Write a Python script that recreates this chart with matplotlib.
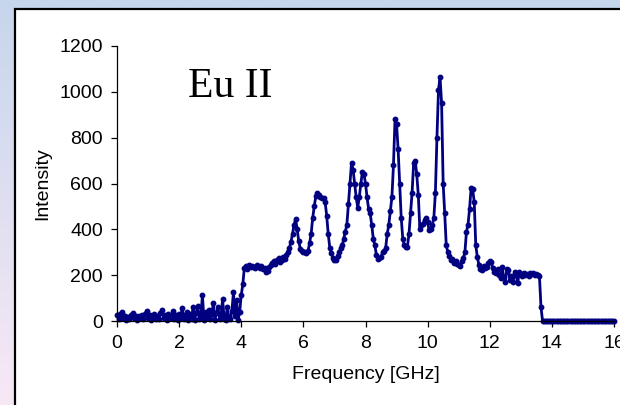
import numpy as np
import matplotlib.pyplot as plt
from matplotlib.patches import Rectangle

freq_step = 0.05
intensity = [
    # 0 - 1 GHz
    25, 10, 30, 40, 15, 20, 5, 18, 10, 25, 33, 12, 20, 5, 22, 15, 28, 10, 30, 45,
    # 1 - 2 GHz
    12, 25, 5, 20, 30, 10, 22, 8, 35, 50, 15, 25, 5, 30, 12, 20, 44, 10, 25, 5,
    # 2 - 3 GHz
    30, 15, 58, 8, 25, 40, 5, 30, 10, 62, 5, 35, 65, 10, 20, 113, 5, 40, 15, 50,
    # 3 - 4 GHz
    10, 30, 77, 5, 35, 62, 8, 25, 95, 10, 5, 62, 15, 8, 45, 128, 20, 92, 5, 40,
    # 4 - 5 GHz
    113, 160, 232, 240, 228, 245, 235, 242, 236, 230, 244, 238, 232, 240, 225, 230, 212, 220, 235, 245,
    # 5 - 6 GHz
    255, 262, 250, 268, 275, 258, 265, 280, 270, 290, 300, 320, 345, 380, 420, 445, 400, 350, 315, 305,
    # 6 - 7 GHz
    300, 302, 298, 305, 340, 380, 450, 500, 545, 560, 548, 540, 538, 535, 520, 460, 380, 320, 295, 275,
    # 7 - 8 GHz
    265, 268, 285, 300, 320, 330, 360, 390, 420, 510, 600, 690, 660, 600, 540, 495, 540, 600, 650, 640,
    # 8 - 9 GHz
    600, 540, 490, 470, 420, 360, 330, 290, 272, 275, 280, 300, 305, 320, 380, 420, 480, 540, 680, 880,
    # 9 - 10 GHz
    860, 750, 600, 450, 360, 330, 322, 325, 380, 470, 560, 690, 700, 640, 550, 400, 420, 425, 440, 450,
    # 10 - 11 GHz
    430, 395, 400, 420, 450, 560, 800, 1010, 1063, 950, 600, 470, 330, 300, 285, 265, 270, 255, 260, 250,
    # 11 - 12 GHz
    245, 240, 260, 275, 300, 390, 420, 490, 580, 575, 520, 330, 280, 245, 225, 222, 240, 230, 235, 255,
    # 12 - 13 GHz
    262, 258, 230, 215, 208, 225, 200, 186, 237, 190, 171, 225, 222, 180, 195, 170, 215, 200, 164, 215,
    # 13 - 14 GHz
    205, 195, 210, 200, 205, 198, 210, 205, 208, 200, 205, 200, 195, 60, 0, 0, 0, 0, 0, 0,
    # 14 - 15 GHz
    0, 0, 0, 0, 0, 0, 0, 0, 0, 0, 0, 0, 0, 0, 0, 0, 0, 0, 0, 0,
    # 15 - 16 GHz
    0, 0, 0, 0, 0, 0, 0, 0, 0, 0, 0, 0, 0, 0, 0, 0, 0, 0, 0, 0,
    0,
]
freq = np.arange(len(intensity)) * freq_step

x_ticks = [0, 2, 4, 6, 8, 10, 12, 14, 16]
y_ticks = [0, 200, 400, 600, 800, 1000, 1200]

fig = plt.figure(figsize=(6.2, 4.05), dpi=100)

# slide background gradient
bg = fig.add_axes([0, 0, 1, 1], zorder=-2)
top = np.array([198, 214, 236]) / 255
bot = np.array([248, 232, 246]) / 255
t = np.linspace(0, 1, 256)[:, None]
grad = (top * (1 - t) + bot * t)[:, None, :]
bg.imshow(grad, aspect='auto', extent=[0, 1, 0, 1])
bg.axis('off')

# white chart box
fig.patches.append(Rectangle((14.5 / 620, -0.1), 1.2, 0.1 + 396.5 / 405,
                             transform=fig.transFigure, facecolor='white',
                             edgecolor='black', linewidth=1.6, zorder=-1))

ax = fig.add_axes([117 / 620, 84 / 405, 497 / 620, 275 / 405])
ax.patch.set_alpha(0)
ax.plot(freq, intensity, color='#000080', lw=2, marker='o', ms=3.2,
        clip_on=False)

ax.set_xlim(0, 16)
ax.set_ylim(0, 1200)
ax.set_xticks(x_ticks)
ax.set_yticks(y_ticks)
for s in ['top', 'right']:
    ax.spines[s].set_visible(False)
for s in ['left', 'bottom']:
    ax.spines[s].set_linewidth(0.9)
ax.tick_params(direction='out', length=4, width=0.9, labelsize=14, pad=6)
for lab in ax.get_xticklabels() + ax.get_yticklabels():
    lab.set_family('Liberation Sans')
ax.set_xlabel('Frequency [GHz]', fontsize=14, family='Liberation Sans', labelpad=10)
ax.set_ylabel('Intensity', fontsize=14, family='Liberation Sans', labelpad=6)

ax.text(0.143, 0.813, 'Eu II', transform=ax.transAxes, fontsize=30,
        family='Liberation Serif', va='baseline')

fig.savefig('out.png', dpi=100)
